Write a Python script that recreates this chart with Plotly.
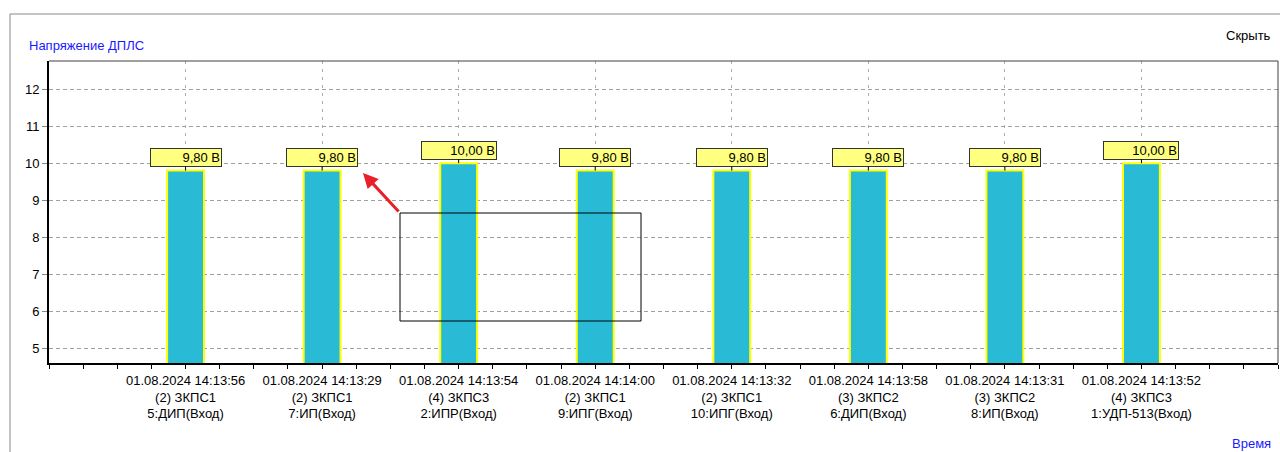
import plotly.graph_objects as go

# данные
times = ["01.08.2024 14:13:56", "01.08.2024 14:13:29", "01.08.2024 14:13:54",
         "01.08.2024 14:14:00", "01.08.2024 14:13:32", "01.08.2024 14:13:58",
         "01.08.2024 14:13:31", "01.08.2024 14:13:52"]
devices = ["(2) ЗКПС1", "(2) ЗКПС1", "(4) ЗКПС3", "(2) ЗКПС1",
           "(2) ЗКПС1", "(3) ЗКПС2", "(3) ЗКПС2", "(4) ЗКПС3"]
inputs = ["5:ДИП(Вход)", "7:ИП(Вход)", "2:ИПР(Вход)", "9:ИПГ(Вход)",
          "10:ИПГ(Вход)", "6:ДИП(Вход)", "8:ИП(Вход)", "1:УДП-513(Вход)"]
values = [9.8, 9.8, 10.0, 9.8, 9.8, 9.8, 9.8, 10.0]

W, H = 1280, 452
L, R, T, B = 49, 1278, 61, 363  # область построения в пикселях
FONT = "Liberation Sans, Arial, sans-serif"


def px(x, y):
    """пиксели окна -> координаты paper."""
    return (x - L) / (R - L), (B - y) / (B - T)


pos = list(range(1, len(values) + 1))
ticktext = [f"{t}<br>{d}<br>{i}" for t, d, i in zip(times, devices, inputs)]
labels = [f"{v:.2f}".replace(".", ",") + " В" for v in values]

fig = go.Figure(go.Bar(
    x=pos, y=values, width=0.27,
    marker=dict(color="#29bbd6", line=dict(color="#ffff00", width=2)),
    hoverinfo="skip",
))

annotations = []
for p, v, lab in zip(pos, values, labels):
    annotations.append(dict(
        x=p, y=v, xref="x", yref="y", text=lab, showarrow=True,
        arrowhead=0, arrowwidth=1, arrowcolor="#000000", ax=0, ay=-13,
        bgcolor="#ffff80", bordercolor="#333333", borderwidth=1, borderpad=1,
        width=len(lab) * 4 + 44, align="right",
        font=dict(family=FONT, size=13, color="#000000")))

# подписи вокруг графика
for txt, (x, y), col, anc in [("Скрыть", (1273, 36), "#000000", "right"),
                              ("Время", (1273, 443), "#1a1aff", "right")]:
    xp, yp = px(x, y)
    annotations.append(dict(x=xp, y=yp, xref="paper", yref="paper", text=txt,
                            showarrow=False, xanchor=anc, yanchor="middle",
                            font=dict(family=FONT, size=13, color=col)))

# красная стрелка со скриншота
hx, hy = px(363, 173)
annotations.append(dict(x=hx, y=hy, xref="paper", yref="paper", text="",
                        showarrow=True, ax=37, ay=40, arrowhead=2, arrowsize=1,
                        arrowwidth=3, arrowcolor="#e8202a"))

shapes = []
for (x0, y0, x1, y1), col in [((10, 14, 1280, 14), "#8a8a8a"),
                              ((10, 14, 10, 452), "#8a8a8a"),
                              ((L, T, R, T), "#404040"),
                              ((R, T, R, B), "#404040")]:
    a0, b0 = px(x0, y0)
    a1, b1 = px(x1, y1)
    shapes.append(dict(type="line", xref="paper", yref="paper", x0=a0, y0=b0,
                       x1=a1, y1=b1, line=dict(color=col, width=1)))
# прямоугольник выделения
a0, b0 = px(400, 213)
a1, b1 = px(641, 321)
shapes.append(dict(type="rect", xref="paper", yref="paper", x0=a0, y0=b0,
                   x1=a1, y1=b1, line=dict(color="#000000", width=1)))

fig.update_layout(
    width=W, height=H,
    margin=dict(l=L, r=W - R, t=T, b=H - B),
    paper_bgcolor="#ffffff", plot_bgcolor="#ffffff",
    showlegend=False,
    font=dict(family=FONT, size=13, color="#000000"),
    title=dict(text="Напряжение ДПЛС", x=29 / W, xanchor="left",
               y=1 - 45 / H, yanchor="middle",
               font=dict(family=FONT, size=13, color="#1a1aff")),
    annotations=annotations,
    shapes=shapes,
    xaxis=dict(
        range=[0, 9], tickmode="array", tickvals=pos, ticktext=ticktext,
        ticks="outside", ticklen=4, tickcolor="#000000",
        showline=True, linecolor="#000000", linewidth=2,
        showgrid=True, gridcolor="#b0b0b0", griddash="3px,5px", gridwidth=1,
        zeroline=False, fixedrange=True,
        minor=dict(tickmode="linear", tick0=0, dtick=0.25, ticks="outside",
                   ticklen=4, tickcolor="#000000", showgrid=False),
    ),
    yaxis=dict(
        range=[4.6, 12.76], tickmode="linear", tick0=5, dtick=1,
        ticks="outside", ticklen=5, tickcolor="#888888",
        showline=True, linecolor="#000000", linewidth=2,
        showgrid=True, gridcolor="#a0a0a0", griddash="4px,3px", gridwidth=1,
        zeroline=False, fixedrange=True,
    ),
)

# убираем стандартный отступ body, чтобы график стоял в углу окна
fig.write_html("out.html", config={"displayModeBar": False},
               post_script="document.body.style.margin='0';"
                           "document.body.style.overflow='hidden';")
